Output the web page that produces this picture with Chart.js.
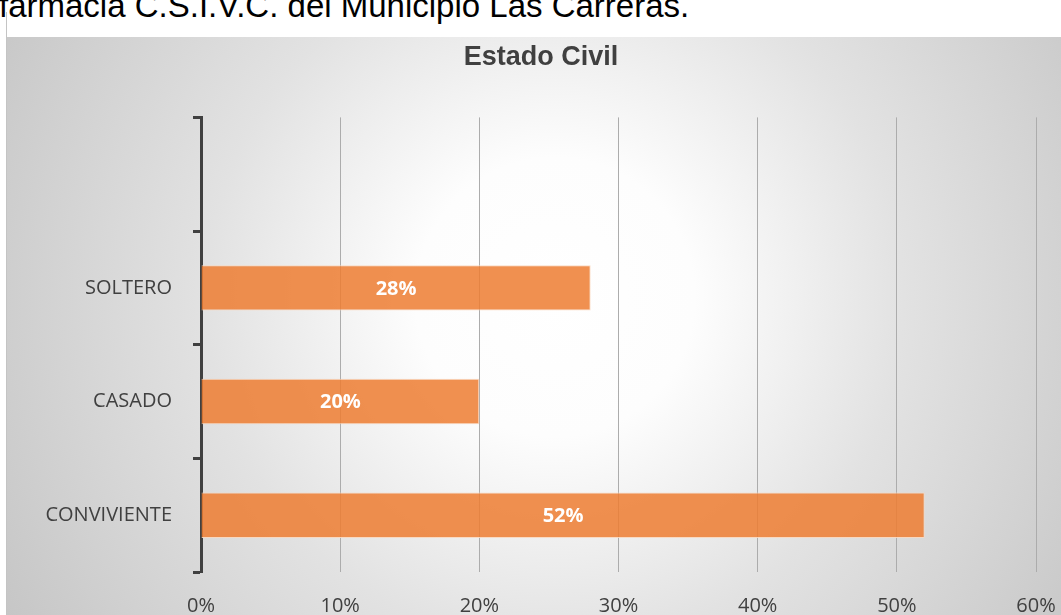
<!DOCTYPE html>
<html>
<head>
<meta charset="utf-8">
<script src="https://cdn.jsdelivr.net/npm/chart.js@4.4.1/dist/chart.umd.min.js"></script>
<style>
    html, body {
        margin: 0;
        padding: 0;
        width: 1061px;
        height: 615px;
        overflow: hidden;
        background: #ffffff;
    }
    #caption {
        position: absolute;
        left: -1px;
        top: -11px;
        font-family: "Liberation Sans", Arial, sans-serif;
        font-size: 33px;
        line-height: 33px;
        color: #000000;
        white-space: nowrap;
    }
    #frame {
        position: absolute;
        left: 6px;
        top: 12px;
        width: 1055px;
        height: 603px;
        border-left: 1px solid #c4c4c4;
    }
    #box {
        position: absolute;
        left: 7px;
        top: 37px;
        width: 1054px;
        height: 578px;
        background: radial-gradient(circle farthest-corner at 52% 45%, #ffffff 0%, #fdfdfd 22%, #e2e2e2 55%, #c6c6c6 100%);
    }
    canvas {
        display: block;
    }
</style>
</head>
<body>
<div id="caption">farmacia C.S.I.V.C. del Municipio Las Carreras.</div>
<div id="frame"></div>
<div id="box"><canvas id="estadoCivilChart" width="1054" height="578"></canvas></div>

<script>
// Estado civil de los encuestados (%)
const categories = ['', 'SOLTERO', 'CASADO', 'CONVIVIENTE'];
const percentages = [null, 28, 20, 52];
const xTicks = [0, 10, 20, 30, 40, 50, 60];

// Writes the percentage in the middle of every bar
const barLabels = {
    id: 'barLabels',
    afterDatasetsDraw(chart) {
        const ctx = chart.ctx;
        const meta = chart.getDatasetMeta(0);
        ctx.save();
        ctx.font = 'bold 20px "Open Sans"';
        ctx.fillStyle = '#ffffff';
        ctx.textAlign = 'center';
        ctx.textBaseline = 'middle';
        meta.data.forEach(function(bar, i) {
            const v = percentages[i];
            if (v === null) return;
            ctx.fillText(v + '%', (bar.x + bar.base) / 2, bar.y + 1);
        });
        ctx.restore();
    }
};

new Chart(document.getElementById('estadoCivilChart'), {
    type: 'bar',
    data: {
        labels: categories,
        datasets: [{
            data: percentages,
            backgroundColor: 'rgba(237, 125, 49, 0.85)',
            borderColor: 'rgba(250, 215, 190, 0.9)',
            borderWidth: 1,
            barPercentage: 0.4,
            categoryPercentage: 1
        }]
    },
    plugins: [barLabels],
    options: {
        indexAxis: 'y',
        responsive: false,
        animation: false,
        layout: {
            padding: { left: 39, right: 25, top: 0, bottom: 0 }
        },
        plugins: {
            legend: { display: false },
            tooltip: { enabled: false },
            title: {
                display: true,
                text: 'Estado Civil',
                color: '#404040',
                font: {
                    family: '"Liberation Sans", Arial, sans-serif',
                    size: 27,
                    weight: 'bold'
                },
                padding: { top: 4, bottom: 44 }
            }
        },
        scales: {
            x: {
                type: 'linear',
                min: xTicks[0],
                max: xTicks[xTicks.length - 1],
                afterBuildTicks: function(scale) {
                    scale.ticks = xTicks.map(v => ({ value: v }));
                },
                afterFit: function(scale) {
                    scale.height = 43;
                },
                border: { display: false },
                grid: {
                    color: '#acacac',
                    lineWidth: 1,
                    drawTicks: true,
                    tickLength: 18,
                    tickColor: 'rgba(0, 0, 0, 0)'
                },
                ticks: {
                    padding: 4,
                    color: '#404040',
                    font: { family: '"Open Sans"', size: 20 },
                    callback: function(value) {
                        return value + '%';
                    }
                }
            },
            y: {
                afterFit: function(scale) {
                    scale.width = 155;
                },
                border: {
                    display: true,
                    color: '#404040',
                    width: 3
                },
                grid: {
                    offset: true,
                    drawOnChartArea: false,
                    drawTicks: true,
                    tickLength: 8,
                    tickColor: '#404040',
                    tickWidth: 3
                },
                ticks: {
                    padding: 21,
                    color: '#404040',
                    font: { family: '"Open Sans"', size: 20 }
                }
            }
        }
    }
});
</script>
</body>
</html>
